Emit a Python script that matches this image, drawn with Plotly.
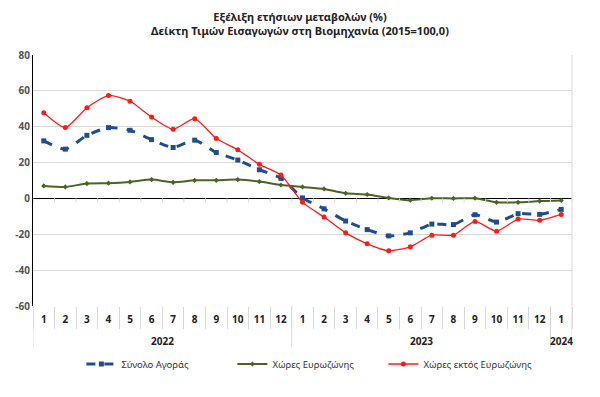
import plotly.graph_objects as go

months = [str(m) for m in range(1, 13)] * 2 + ["1"]
year_labels = ["2022", "2023", "2024"]
year_centers = [6.5, 18.5, 25]
year_bounds = [0.5, 12.5, 24.5, 25.5]

total_market = [32.1, 27.5, 35.2, 39.5, 38.0, 32.8, 28.4, 32.5, 25.6, 21.4, 16.0, 11.2,
                0.3, -5.8, -12.6, -17.4, -20.9, -19.2, -14.3, -14.6, -9.1, -13.2, -8.5, -8.9, -6.1]
eurozone = [7.0, 6.4, 8.3, 8.5, 9.2, 10.5, 9.0, 10.1, 10.1, 10.5, 9.4, 7.5,
            6.4, 5.3, 2.9, 2.2, 0.3, -1.0, 0.1, 0.0, 0.1, -2.2, -2.2, -1.5, -1.1]
non_eurozone = [47.8, 39.5, 50.6, 57.4, 54.2, 45.4, 38.6, 44.5, 33.4, 27.1, 19.0, 13.1,
                -2.2, -10.4, -19.2, -25.3, -29.2, -27.0, -20.5, -20.5, -12.8, -18.3, -11.5, -12.2, -8.9]

names = ["Σύνολο Αγοράς", "Χώρες Ευρωζώνης", "Χώρες εκτός Ευρωζώνης"]
y_ticks = [80, 60, 40, 20, 0, -20, -40, -60]

FONT = "Noto Sans, Open Sans, sans-serif"
x = list(range(1, len(months) + 1))

fig = go.Figure()
fig.add_trace(go.Scatter(x=x, y=total_market, name=names[0], mode="lines+markers",
                         line=dict(color="#1F4E8F", width=3, dash="dash", shape="spline", smoothing=0.6),
                         marker=dict(symbol="square", size=5, color="#1F4E8F")))
fig.add_trace(go.Scatter(x=x, y=eurozone, name=names[1], mode="lines+markers",
                         line=dict(color="#4A6424", width=2, shape="spline", smoothing=0.6),
                         marker=dict(symbol="diamond", size=4, color="#4A6424")))
fig.add_trace(go.Scatter(x=x, y=non_eurozone, name=names[2], mode="lines+markers",
                         line=dict(color="#FF1A1A", width=1.3, shape="spline", smoothing=0.6),
                         marker=dict(symbol="circle", size=5, color="#FF1A1A")))

shapes = []
for b in year_bounds:
    shapes.append(dict(type="line", xref="x", yref="paper", x0=b, x1=b, y0=0, y1=-0.163,
                       line=dict(color="#D9D9D9", width=1)))
for i in range(len(months) + 1):
    b = 0.5 + i
    shapes.append(dict(type="line", xref="x", yref="y", ysizemode="pixel", yanchor=0,
                       x0=b, x1=b, y0=-4, y1=0, line=dict(color="#D9D9D9", width=1)))
shapes.append(dict(type="line", xref="paper", yref="paper", x0=1, x1=1, y0=0, y1=1,
                   line=dict(color="#D9D9D9", width=1)))

annotations = [dict(text=f"<b>{t}</b>", x=c, xref="x", y=-0.139, yref="paper",
                    showarrow=False, xanchor="center", yanchor="middle",
                    font=dict(family=FONT, size=10, color="#222222"))
               for t, c in zip(year_labels, year_centers)]

fig.update_layout(
    width=600, height=397,
    margin=dict(l=33, r=28, t=55, b=91),
    paper_bgcolor="white", plot_bgcolor="white",
    font=dict(family=FONT, size=10, color="#333333"),
    title=dict(text="<b>Εξέλιξη ετήσιων μεταβολών (%)</b><br><b>Δείκτη Τιμών Εισαγωγών στη Βιομηχανία (2015=100,0)</b>",
               x=0.5, xanchor="center", y=0.947, yanchor="top",
               font=dict(family=FONT, size=11, color="#222222")),
    showlegend=True,
    legend=dict(orientation="h", x=0.51, xanchor="center", y=-0.231, yanchor="middle",
                font=dict(family=FONT, size=9.5, color="#333333"), itemwidth=30,
                entrywidth=106, entrywidthmode="pixels",
                traceorder="normal"),
    shapes=shapes,
    annotations=annotations,
    yaxis=dict(range=[-60, 80], tickvals=y_ticks, ticktext=[f"<b>{v}</b>" for v in y_ticks],
               showgrid=True, gridcolor="#D9D9D9", gridwidth=1,
               zeroline=True, zerolinecolor="black", zerolinewidth=1.2,
               showline=True, linecolor="black", linewidth=1.2,
               ticks="", tickfont=dict(size=10, color="#555555"), automargin=False),
    xaxis=dict(range=[0.5, 25.5], tickvals=x, ticktext=[f"<b>{m}</b>" for m in months],
               tickangle=0, showgrid=False, zeroline=False,
               showline=False, ticks="", ticklabelstandoff=6,
               minor=dict(tick0=0.5, dtick=1, ticks="outside", ticklen=22, tickcolor="#D9D9D9", showgrid=False),
               tickfont=dict(size=10, color="#222222"), automargin=False),
)

fig.write_html("out.html", config={"displayModeBar": False},
               post_script="document.body.style.margin='0';document.body.style.overflow='hidden';")
